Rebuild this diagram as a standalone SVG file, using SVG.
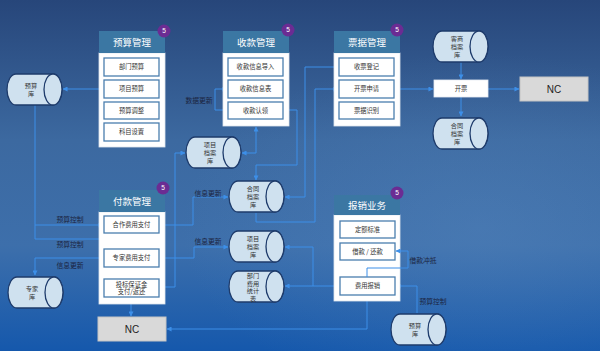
<svg xmlns="http://www.w3.org/2000/svg" width="600" height="351" viewBox="0 0 600 351">
<style>
text{font-family:"Noto Sans CJK SC","Noto Sans",sans-serif}
.hd{fill:#3b77a3}
.hdt{fill:#ffffff;font-size:9.5px;text-anchor:middle}
.body{fill:#ffffff;stroke:#dfe6ee;stroke-width:0.8}
.it{fill:#ffffff;stroke:#4a7eae;stroke-width:1.3}
.itt{fill:#333333;font-size:6.3px;text-anchor:middle}
.cyt{fill:#333333;font-size:6.2px;text-anchor:middle}
.bd{fill:#6b2c93}
.bdt{fill:#ffffff;font-size:6.5px;text-anchor:middle;font-family:"Liberation Sans",sans-serif}
.nc{fill:#d9d9d9;stroke:#c4c4c4;stroke-width:1}
.nct{fill:#222222;font-size:10px;text-anchor:middle;font-family:"Liberation Sans",sans-serif}
.lb{fill:#1b2440;font-size:6.8px;text-anchor:middle}
.cn{fill:none;stroke:#3d8fe8;stroke-width:1}
</style>
<defs>
<linearGradient id="bg" x1="0" y1="0" x2="0" y2="1">
<stop offset="0" stop-color="#27467a"/>
<stop offset="0.4" stop-color="#3c69a0"/>
<stop offset="0.7" stop-color="#3d6fab"/>
<stop offset="1" stop-color="#1558ac"/>
</linearGradient>
<radialGradient id="glow" cx="0.8" cy="0.65" r="0.5">
<stop offset="0" stop-color="#5a8ac0" stop-opacity="0.35"/>
<stop offset="1" stop-color="#5a8ac0" stop-opacity="0"/>
</radialGradient>
<marker id="ah" viewBox="0 0 6 6" refX="5.5" refY="3" markerWidth="5" markerHeight="5" orient="auto-start-reverse">
<path d="M0,0 L6,3 L0,6 Z" fill="#3d8fe8"/>
</marker>
<g id="cyl">
<path d="M9,0 H46 A9,15.5 0 0 1 46,31 H9 A9,15.5 0 0 1 9,0 Z" fill="#cfe1ef" stroke="#1e3b6b" stroke-width="1.3"/>
<ellipse cx="46" cy="15.5" rx="9" ry="15.5" fill="#cfe1ef" stroke="#1e3b6b" stroke-width="1.3"/>
</g>
</defs>
<rect width="600" height="351" fill="url(#bg)"/>
<rect width="600" height="351" fill="url(#glow)"/>

<g id="connectors">
<path class="cn" d="M99,89 H63" marker-end="url(#ah)"/>
<path class="cn" d="M35,105 V239 H131 V248" marker-end="url(#ah)"/>
<path class="cn" d="M35,225 H103" marker-end="url(#ah)"/>
<path class="cn" d="M104,258 H35 V275" marker-end="url(#ah)"/>
<path class="cn" d="M228,110 H215 V89 H227" marker-end="url(#ah)"/>
<path class="cn" d="M256,127 V153 H242" marker-start="url(#ah)" marker-end="url(#ah)"/>
<path class="cn" d="M283,110 H297 V165 H256 V180" marker-end="url(#ah)"/>
<path class="cn" d="M339,67 H305 V197 H285" marker-end="url(#ah)"/>
<path class="cn" d="M256,213 V222 H315 V89 H338" marker-end="url(#ah)"/>
<path class="cn" d="M159,225 H193 V197 H228" marker-end="url(#ah)"/>
<path class="cn" d="M159,258 H194 V247 H228" marker-end="url(#ah)"/>
<path class="cn" d="M160,287 H175 V153 H185" marker-start="url(#ah)" marker-end="url(#ah)"/>
<path class="cn" d="M131,304 V316" marker-end="url(#ah)"/>
<path class="cn" d="M367,301 V329 H167" marker-end="url(#ah)"/>
<path class="cn" d="M417,313 V286 H396" marker-end="url(#ah)"/>
<path class="cn" d="M340,286 H285" marker-end="url(#ah)"/>
<path class="cn" d="M313,286 V247 H285" marker-end="url(#ah)"/>
<path class="cn" d="M461,62 V79" marker-end="url(#ah)"/>
<path class="cn" d="M461,97 V116" marker-end="url(#ah)"/>
<path class="cn" d="M394,89 H433" marker-end="url(#ah)"/>
<path class="cn" d="M488,89 H519" marker-end="url(#ah)"/>
</g>

<g id="budget-mgmt">
<rect class="body" x="99" y="53" width="66" height="94"/>
<rect class="hd" x="99" y="31" width="66" height="22"/>
<text class="hdt" x="132" y="45.5">预算管理</text>
<rect class="it" x="104" y="58" width="55" height="18"/><text class="itt" x="131.5" y="69.2">部门预算</text>
<rect class="it" x="104" y="80" width="55" height="18"/><text class="itt" x="131.5" y="91.2">项目预算</text>
<rect class="it" x="104" y="102" width="55" height="17"/><text class="itt" x="131.5" y="112.7">预算调整</text>
<rect class="it" x="104" y="123" width="55" height="18"/><text class="itt" x="131.5" y="134.2">科目设置</text>
<circle class="bd" cx="164" cy="31" r="6.5"/><text class="bdt" x="164" y="33.4">5</text>
</g>

<g id="receipt-mgmt">
<rect class="body" x="223" y="53" width="66" height="73"/>
<rect class="hd" x="223" y="31" width="66" height="22"/>
<text class="hdt" x="256" y="45.5">收款管理</text>
<rect class="it" x="228" y="58" width="55" height="18"/><text class="itt" x="255.5" y="69.2">收款信息导入</text>
<rect class="it" x="228" y="80" width="55" height="18"/><text class="itt" x="255.5" y="91.2">收款信息表</text>
<rect class="it" x="228" y="102" width="55" height="17"/><text class="itt" x="255.5" y="112.7">收款认领</text>
<circle class="bd" cx="288" cy="30" r="6.5"/><text class="bdt" x="288" y="32.4">5</text>
</g>

<g id="invoice-mgmt">
<rect class="body" x="334" y="53" width="66" height="73"/>
<rect class="hd" x="334" y="31" width="66" height="22"/>
<text class="hdt" x="367" y="45.5">票据管理</text>
<rect class="it" x="339" y="58" width="55" height="18"/><text class="itt" x="366.5" y="69.2">收票登记</text>
<rect class="it" x="339" y="80" width="55" height="18"/><text class="itt" x="366.5" y="91.2">开票申请</text>
<rect class="it" x="339" y="102" width="55" height="17"/><text class="itt" x="366.5" y="112.7">票据识别</text>
<circle class="bd" cx="397" cy="30" r="6.5"/><text class="bdt" x="397" y="32.4">5</text>
</g>

<g id="payment-mgmt">
<rect class="body" x="99" y="212" width="66" height="92"/>
<rect class="hd" x="99" y="190" width="66" height="22"/>
<text class="hdt" x="132" y="204.5">付款管理</text>
<rect class="it" x="104" y="216" width="55" height="17"/><text class="itt" x="131.5" y="226.7">合作费用支付</text>
<rect class="it" x="104" y="249" width="55" height="18"/><text class="itt" x="131.5" y="260.2">专家费用支付</text>
<rect class="it" x="104" y="279" width="55" height="18"/><text class="itt" x="131.5" y="286.5">投标保证金</text><text class="itt" x="131.5" y="294">支付/返还</text>
<circle class="bd" cx="163" cy="188" r="6.5"/><text class="bdt" x="163" y="190.4">5</text>
</g>

<g id="expense-biz">
<rect class="body" x="334" y="215" width="66" height="86"/>
<rect class="hd" x="334" y="195" width="66" height="20"/>
<text class="hdt" x="367" y="208.5">报销业务</text>
<rect class="it" x="340" y="221" width="55" height="17"/><text class="itt" x="367.5" y="231.7">定额标准</text>
<rect class="it" x="340" y="243" width="55" height="17"/><text class="itt" x="367.5" y="253.7">借款 / 还款</text>
<rect class="it" x="340" y="277" width="55" height="18"/><text class="itt" x="367.5" y="288.2">费用报销</text>
<circle class="bd" cx="397" cy="193" r="6.5"/><text class="bdt" x="397" y="195.4">5</text>
</g>
<path class="cn" d="M367,277 V268 H408 V251 H396" marker-end="url(#ah)"/>

<g id="budget-db-left"><use href="#cyl" x="7" y="74"/><text class="cyt" x="31" y="88">预算</text><text class="cyt" x="31" y="96">库</text></g>
<g id="expert-db"><use href="#cyl" x="8" y="277"/><text class="cyt" x="32" y="291">专家</text><text class="cyt" x="32" y="299">库</text></g>
<g id="project-db-1"><use href="#cyl" x="186" y="137"/><text class="cyt" x="210" y="147">项目</text><text class="cyt" x="210" y="155">档案</text><text class="cyt" x="210" y="163">库</text></g>
<g id="contract-db-1"><use href="#cyl" x="229" y="181"/><text class="cyt" x="253" y="191">合同</text><text class="cyt" x="253" y="199">档案</text><text class="cyt" x="253" y="207">库</text></g>
<g id="project-db-2"><use href="#cyl" x="229" y="231"/><text class="cyt" x="253" y="241">项目</text><text class="cyt" x="253" y="249">档案</text><text class="cyt" x="253" y="257">库</text></g>
<g id="dept-cost-table"><use href="#cyl" x="229" y="271"/><text class="cyt" x="253" y="278">部门</text><text class="cyt" x="253" y="285.5">费用</text><text class="cyt" x="253" y="293">统计</text><text class="cyt" x="253" y="300.5">表</text></g>
<g id="client-db"><use href="#cyl" x="433" y="31"/><text class="cyt" x="457" y="41">客商</text><text class="cyt" x="457" y="49">档案</text><text class="cyt" x="457" y="57">库</text></g>
<g id="contract-db-2"><use href="#cyl" x="433" y="118"/><text class="cyt" x="457" y="128">合同</text><text class="cyt" x="457" y="136">档案</text><text class="cyt" x="457" y="144">库</text></g>
<g id="budget-db-right"><use href="#cyl" x="391" y="314"/><text class="cyt" x="415" y="328">预算</text><text class="cyt" x="415" y="336">库</text></g>

<g id="invoice-box"><rect x="434" y="80" width="54" height="17" fill="#ffffff" stroke="#e6ecf2" stroke-width="0.8"/><text class="itt" x="461" y="90.7">开票</text></g>
<g id="nc-right"><rect class="nc" x="520" y="77" width="68" height="24"/><text class="nct" x="554" y="92.5">NC</text></g>
<g id="nc-bottom"><rect class="nc" x="98" y="317" width="68" height="24"/><text class="nct" x="132" y="332.5">NC</text></g>

<g id="labels">
<text class="lb" x="199" y="102.5">数据更新</text>
<text class="lb" x="208" y="195.5">信息更新</text>
<text class="lb" x="208" y="244">信息更新</text>
<text class="lb" x="70" y="221.5">预算控制</text>
<text class="lb" x="70" y="246.5">预算控制</text>
<text class="lb" x="70" y="267.5">信息更新</text>
<text class="lb" x="423" y="262.5">借款冲抵</text>
<text class="lb" x="433" y="303.5">预算控制</text>
</g>
</svg>
